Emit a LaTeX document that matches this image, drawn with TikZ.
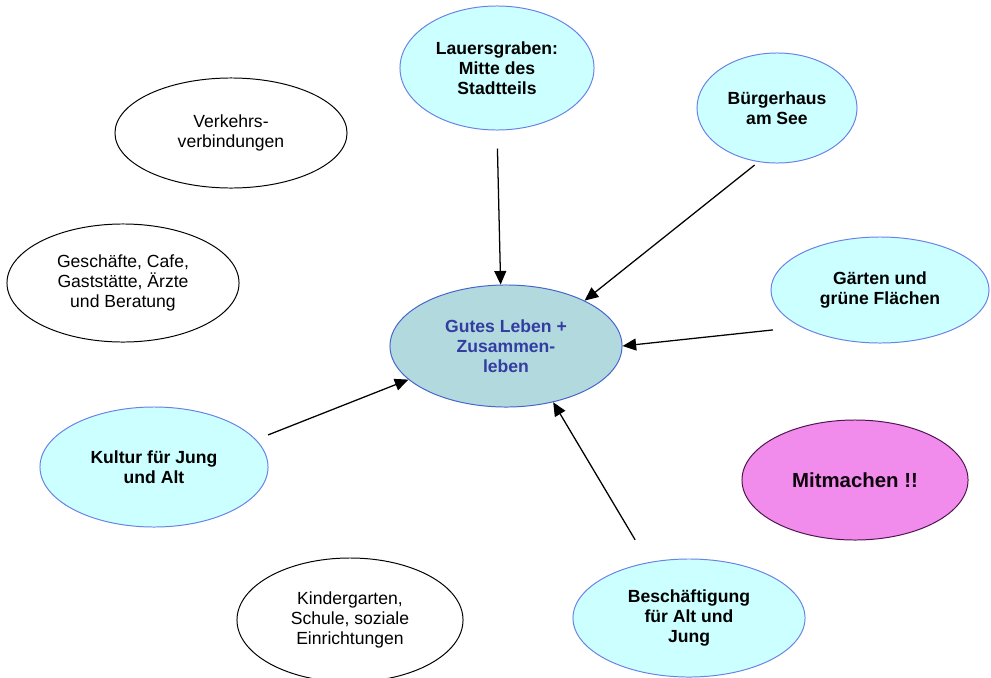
\documentclass[tikz,border=0pt]{standalone}
\usepackage{fontspec}
\setmainfont{Liberation Sans}
\usetikzlibrary{shapes.geometric,arrows.meta}

\begin{document}
\begin{tikzpicture}[x=0.025cm,y=-0.025cm]
\definecolor{hellblau}{RGB}{204,255,255}
\definecolor{randblau}{RGB}{105,130,230}
\definecolor{mitte}{RGB}{178,218,222}
\definecolor{mitterand}{RGB}{70,100,205}
\definecolor{textblau}{RGB}{51,60,160}
\definecolor{lila}{RGB}{242,140,236}
\definecolor{lilarand}{RGB}{80,20,80}
\tikzset{
	blase/.style={ellipse, draw, line width=0.7pt, inner sep=0pt, align=center, font=\fontsize{12.5}{14.4}\selectfont},
	thema/.style={blase, fill=hellblau, draw=randblau, font=\fontsize{12.5}{14.4}\selectfont\bfseries},
	pfeil/.style={-{Triangle[length=3.4mm,width=3mm]}, line width=0.9pt}
}
	\useasboundingbox (0,0) rectangle (991,677);

	\node[thema, minimum width=4.85cm, minimum height=3.1cm] (laue) at (497,68) {Lauersgraben:\\Mitte des\\Stadtteils};
	\node[thema, minimum width=4cm, minimum height=2.75cm] (burg) at (777,108) {Bürgerhaus\\am See};
	\node[blase, minimum width=5.8cm, minimum height=2.75cm] (verk) at (231,133) {Verkehrs-\\verbindungen};
	\node[blase, minimum width=5.8cm, minimum height=2.95cm] (gesch) at (123,283) {Geschäfte, Cafe,\\Gaststätte, Ärzte\\und Beratung};
	\node[thema, fill=mitte, draw=mitterand, text=textblau, minimum width=5.8cm, minimum height=3.05cm] (gut) at (506,346) {Gutes Leben +\\Zusammen-\\leben};
	\node[thema, minimum width=5.45cm, minimum height=2.65cm] (gaer) at (880,290) {Gärten und\\grüne Flächen};
	\node[thema, minimum width=5.7cm, minimum height=3cm] (kult) at (154,467) {Kultur für Jung\\und Alt};
	\node[thema, fill=lila, draw=lilarand, text=black!85!lilarand, font=\fontsize{14.5}{16}\selectfont\bfseries, minimum width=5.65cm, minimum height=3cm] (mit) at (855,480) {Mitmachen !!};
	\node[blase, minimum width=5.65cm, minimum height=3.1cm] (kind) at (350,620) {Kindergarten,\\Schule, soziale\\Einrichtungen};
	\node[thema, minimum width=5.8cm, minimum height=2.95cm] (besch) at (689,618) {Beschäftigung\\für Alt und\\Jung};

	\draw[pfeil, shorten <=0.45cm] (laue.south) -- (gut.95);
	\draw[pfeil, shorten <=0.12cm] (burg.251) -- (gut.30);
	\draw[pfeil, shorten <=0.7cm] (gaer.205) -- (gut.east);
	\draw[pfeil, shorten <=0.32cm] (kult.15) -- (gut.199);
	\draw[pfeil, shorten <=0.65cm] (besch.126) -- (gut.-50);
\end{tikzpicture}
\end{document}
